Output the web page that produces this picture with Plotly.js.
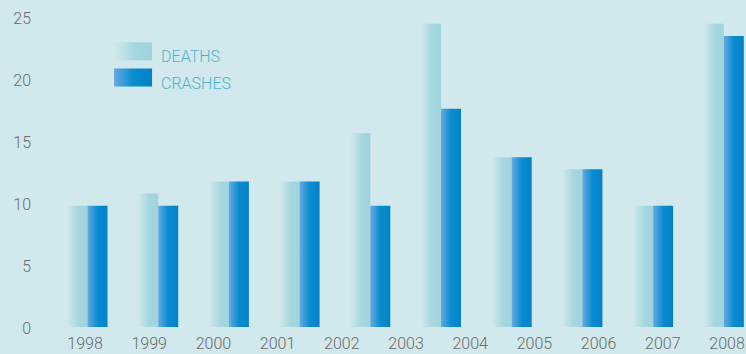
<!DOCTYPE html>
<html>
<head>
<meta charset="utf-8">
<script src="https://cdn.plot.ly/plotly-3.0.1.min.js"></script>
<style>
  html, body { margin: 0; padding: 0; background: #d1e8ec; }
  #chart { width: 746px; height: 354px; }
</style>
</head>
<body>
<div id="chart"></div>
<script>
// ---- data ----
const barSlots = [1, 2, 3, 4, 5, 6, 7, 8, 9, 10];
const deaths   = [10, 11, 12, 12, 16, 25, 14, 13, 10, 25];
const crashes  = [10, 10, 12, 12, 10, 18, 14, 13, 10, 24];
const yearTicks = [1998, 1999, 2000, 2001, 2002, 2003, 2004, 2005, 2006, 2007, 2008];
const yearLabels = ['1998', '1999', '2000', '2001', '2002', '2003', '2004', '2005', '2006', '2007', '2008'];
const valueTicks = [0, 5, 10, 15, 20, 25];
const seriesNames = ['DEATHS', 'CRASHES'];

const BG = '#d1e8ec';
const FONT = 'Roboto, "Open Sans", sans-serif';

const traces = [
  {
    type: 'bar', name: seriesNames[0], x: barSlots, y: deaths,
    marker: { color: '#a2d5de' }, xaxis: 'x', yaxis: 'y',
    legendgroup: 'a', hoverinfo: 'y'
  },
  {
    type: 'bar', name: seriesNames[1], x: barSlots, y: crashes,
    marker: { color: '#0a88cc' }, xaxis: 'x', yaxis: 'y',
    legendgroup: 'b', hoverinfo: 'y'
  },
  {
    type: 'scatter', mode: 'markers', x: yearTicks, y: yearTicks.map(() => 0),
    marker: { opacity: 0, size: 1 }, xaxis: 'x2', yaxis: 'y2',
    showlegend: false, hoverinfo: 'skip'
  }
];

const layout = {
  width: 746, height: 354,
  paper_bgcolor: BG, plot_bgcolor: BG,
  margin: { l: 52, r: 0, t: 5, b: 25 },
  barmode: 'group', bargap: 0.434, bargroupgap: 0,
  font: { family: FONT, size: 16, color: '#6b6b6b', weight: 300 },
  showlegend: true,
  legend: {
    x: 0.0995, xanchor: 'left', y: 0.894, yanchor: 'top',
    bgcolor: 'rgba(0,0,0,0)', traceorder: 'grouped', tracegroupgap: 2.5,
    font: { family: FONT, size: 16, color: '#4fb2cd', weight: 300 }
  },
  xaxis: {
    range: [0.498, 10.314], showticklabels: false, ticks: '',
    showgrid: false, zeroline: false, showline: false
  },
  xaxis2: {
    overlaying: 'x', anchor: 'y', side: 'bottom',
    range: [1997.486, 2008.296], tickmode: 'array',
    tickvals: yearTicks, ticktext: yearLabels, ticks: '',
    showgrid: false, zeroline: false, showline: false,
    ticklabelstandoff: 3,
    tickfont: { family: FONT, size: 16, color: '#6b6b6b', weight: 300 }
  },
  yaxis: {
    range: [-0.165, 26.55], showticklabels: false, ticks: '',
    showgrid: false, zeroline: false, showline: false
  },
  yaxis2: {
    overlaying: 'y', side: 'left', anchor: 'x',
    range: [-0.024, 26.105], tickmode: 'array', tickvals: valueTicks,
    ticks: '', showgrid: false, zeroline: false, showline: false,
    ticklabelstandoff: 20,
    tickfont: { family: FONT, size: 16, color: '#6b6b6b', weight: 300 }
  }
};

function addGradients(gd) {
  const svg = gd.querySelector('svg.main-svg');
  let defs = svg.querySelector('defs');
  const NS = 'http://www.w3.org/2000/svg';
  if (!defs) { defs = document.createElementNS(NS, 'defs'); svg.insertBefore(defs, svg.firstChild); }
  function grad(id, stops) {
    const g = document.createElementNS(NS, 'linearGradient');
    g.setAttribute('id', id);
    g.setAttribute('x1', '0'); g.setAttribute('y1', '0');
    g.setAttribute('x2', '1'); g.setAttribute('y2', '0');
    stops.forEach(s => {
      const st = document.createElementNS(NS, 'stop');
      st.setAttribute('offset', s[0]);
      st.setAttribute('stop-color', s[1]);
      g.appendChild(st);
    });
    defs.appendChild(g);
  }
  grad('gradDeaths', [[0, '#d1e8ec'], [0.55, '#a6d7df'], [1, '#9fd3dd']]);
  grad('gradCrashes', [[0, '#66aadf'], [0.5, '#0a8cd1'], [1, '#0381c7']]);

  const ids = ['gradDeaths', 'gradCrashes'];
  gd.querySelectorAll('.barlayer .trace.bars').forEach((t, i) => {
    t.querySelectorAll('path').forEach(p => { p.style.fill = 'url(#' + ids[i] + ')'; });
  });
  gd.querySelectorAll('.legend [clip-path]').forEach(e => e.removeAttribute('clip-path'));
  gd.querySelectorAll('.legend .traces').forEach((t, i) => {
    const p = t.querySelector('path.legendbar') || t.querySelector('.legendpoints path');
    if (p) {
      p.setAttribute('d', 'M-27,4H11V-14H-27Z');
      p.style.fill = 'url(#' + ids[i] + ')';
      p.style.stroke = 'none';
    }
  });
}

Plotly.newPlot('chart', traces, layout, { displayModeBar: false, staticPlot: true })
  .then(addGradients);
</script>
</body>
</html>
